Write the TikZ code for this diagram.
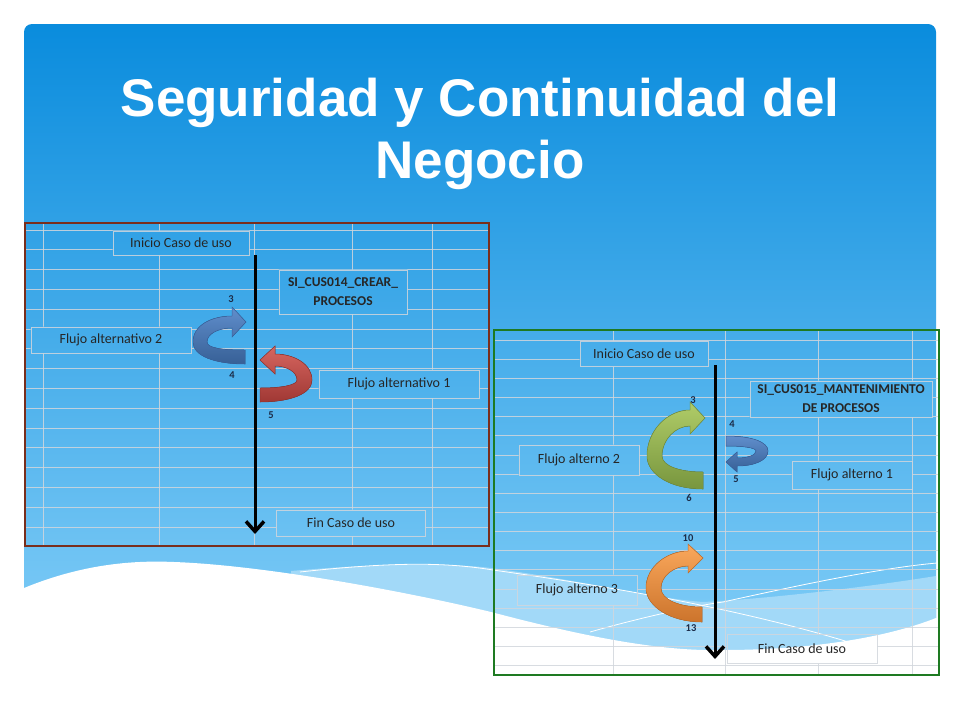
\documentclass[tikz,border=0pt]{standalone}
\usepackage{fontspec}
\setmainfont{Carlito}
\newfontfamily\titlefont{Liberation Sans}
\usetikzlibrary{arrows.meta}

\definecolor{slidetop}{HTML}{0A8CDD}
\definecolor{slidebot}{HTML}{8AD2F9}
\definecolor{bandblue}{HTML}{A2D9F8}
\definecolor{sheetline}{HTML}{D2D6DC}
\definecolor{brownframe}{HTML}{7A2E1C}
\definecolor{greenframe}{HTML}{1E7A22}
\definecolor{numcol}{HTML}{1C2C48}

\begin{document}
\begin{tikzpicture}[x=1pt,y=-1pt,
		gridline/.style={sheetline, line width=0.8pt, opacity=0.85},
		cellbox/.style={draw=sheetline, draw opacity=0.85, line width=0.8pt, inner sep=0pt, text=black!85, font=\fontsize{14}{16}\selectfont},
		headbox/.style={cellbox, align=center, font=\bfseries\fontsize{13.5}{19}\selectfont},
		num/.style={text=numcol, font=\bfseries\fontsize{10.5}{12}\selectfont},
		flowline/.style={line width=3pt, -{Straight Barb[length=10pt,width=18pt,line width=3.5pt]}},
		waveline/.style={white, line width=0.8pt},
		blueribbon/.style={top color={rgb,255:red,96;green,142;blue,204}, bottom color={rgb,255:red,55;green,96;blue,150}, draw={rgb,255:red,60;green,100;blue,160}, line width=0.5pt},
		redribbon/.style={top color={rgb,255:red,214;green,102;blue,96}, bottom color={rgb,255:red,160;green,56;blue,52}, draw={rgb,255:red,150;green,55;blue,50}, line width=0.5pt},
		greenribbon/.style={top color={rgb,255:red,176;green,204;blue,104}, bottom color={rgb,255:red,120;green,150;blue,62}, draw={rgb,255:red,118;green,146;blue,64}, line width=0.5pt},
		orangeribbon/.style={top color={rgb,255:red,250;green,168;blue,92}, bottom color={rgb,255:red,204;green,116;blue,44}, draw={rgb,255:red,196;green,112;blue,44}, line width=0.5pt}]
	\useasboundingbox (0,0) rectangle (960,720);

	%slide
	\shade[top color=slidetop, bottom color=slidebot, rounded corners=8pt] (24,24) rectangle (936,700);
	\fill[bandblue] (291,571) .. controls (380,563) and (450,563) .. (491,568) .. controls (580,580) and (650,598) .. (703,602) .. controls (780,598) and (880,585) .. (936,576) -- (936,700) -- (291,700) -- cycle;
	\fill[white] (24,588) .. controls (80,565) and (130,560) .. (174,562) .. controls (260,565) and (400,590) .. (491,612) .. controls (560,630) and (650,652) .. (723,650) .. controls (800,650) and (880,640) .. (936,618) -- (960,618) -- (960,720) -- (0,720) -- (0,588) -- cycle;
	\draw[waveline] (300,572) .. controls (400,561) and (450,563) .. (493,570) .. controls (620,588) and (760,612) .. (880,652);
	\draw[waveline] (590,632) .. controls (650,615) and (700,605) .. (723,602) .. controls (800,585) and (880,568) .. (937,563);

	\node[text=white, align=center, font=\titlefont\bfseries\fontsize{53}{62}\selectfont] (title) at (480,134) {Seguridad y Continuidad del\\Negocio};

	%left sheet
	\node[cellbox, minimum width=136pt, minimum height=24pt] (iniA) at (181,243) {Inicio Caso de uso};
	\node[headbox, minimum width=128pt, minimum height=44pt] (headA) at (343,292) {SI\_CUS014\_CREAR\_\\PROCESOS};
	\node[cellbox, minimum width=160pt, minimum height=26pt] (altA2) at (111,340) {Flujo alternativo 2};
	\node[cellbox, minimum width=160pt, minimum height=28pt] (altA1) at (399,384) {Flujo alternativo 1};
	\node[cellbox, minimum width=149pt, minimum height=26pt] (finA) at (351,523) {Fin Caso de uso};

	\begin{scope}[even odd rule]
		\clip (24,222) rectangle (489,546)
			(iniA.south west) rectangle (iniA.north east)
			(headA.south west) rectangle (headA.north east)
			(altA2.south west) rectangle (altA2.north east)
			(altA1.south west) rectangle (altA1.north east)
			(finA.south west) rectangle (finA.north east);
		\foreach \r in {0,...,15}{
			\draw[gridline] (24,{230+19.8*\r}) -- (489,{230+19.8*\r});
		}
		\foreach \c in {43,159,254,352,432}{
			\draw[gridline] (\c,222) -- (\c,546);
		}
	\end{scope}
	\draw[brownframe, line width=2pt] (25,223) rectangle (489,546);

	\node[num] (a3) at (231,299) {3};
	\node[num] (a4) at (232,375) {4};
	\node[num] (a5) at (271,415) {5};

	\fill[blueribbon] (245,364) .. controls (215,364) and (193,356) .. (193,342) .. controls (193,325) and (212,316) .. (232,316) -- (232,307) -- (246,322) -- (232,337) -- (232,328) .. controls (218,328) and (207,334) .. (207,342) .. controls (207,348) and (222,350) .. (245,350) -- cycle;
	\fill[redribbon] (260,402) .. controls (290,402) and (312,394) .. (312,380) .. controls (312,364) and (294,354) .. (275,354) -- (275,346) -- (260,360) -- (275,374) -- (275,366) .. controls (287,366) and (297,372) .. (297,380) .. controls (297,385) and (282,388) .. (260,388) -- cycle;

	\coordinate (topA) at (255,255);
	\coordinate (botA) at (255,534);
	\draw[flowline] (topA) -- (botA);

	%right sheet
	\node[cellbox, minimum width=128pt, minimum height=25pt] (iniB) at (644,354) {Inicio Caso de uso};
	\node[headbox, minimum width=182pt, minimum height=36pt] (headB) at (841,399) {SI\_CUS015\_MANTENIMIENTO\\DE PROCESOS};
	\node[cellbox, minimum width=120pt, minimum height=30pt] (altB2) at (579,460) {Flujo alterno 2};
	\node[cellbox, minimum width=120pt, minimum height=28pt] (altB1) at (852,475) {Flujo alterno 1};
	\node[cellbox, minimum width=120pt, minimum height=30pt] (altB3) at (577,590) {Flujo alterno 3};
	\node[cellbox, minimum width=150pt, minimum height=29pt] (finB) at (802,649) {Fin Caso de uso};

	\begin{scope}[even odd rule]
		\clip (493,329) rectangle (940,676)
			(iniB.south west) rectangle (iniB.north east)
			(headB.south west) rectangle (headB.north east)
			(altB2.south west) rectangle (altB2.north east)
			(altB1.south west) rectangle (altB1.north east)
			(altB3.south west) rectangle (altB3.north east)
			(finB.south west) rectangle (finB.north east);
		\foreach \r in {0,...,17}{
			\draw[gridline] (493,{340+19.15*\r}) -- (940,{340+19.15*\r});
		}
		\foreach \c in {613,725,818,912}{
			\draw[gridline] (\c,329) -- (\c,676);
		}
	\end{scope}
	\draw[greenframe, line width=2pt] (494,330) rectangle (939,675);

	\node[num] (b3) at (693,400) {3};
	\node[num] (b4) at (732,424) {4};
	\node[num] (b5) at (736,479) {5};
	\node[num] (b6) at (689,498) {6};
	\node[num] (b10) at (688,538) {10};
	\node[num] (b13) at (691,628) {13};

	\fill[greenribbon] (703,489) .. controls (670,489) and (647,474) .. (647,456) .. controls (647,430) and (668,410) .. (690,410) -- (690,402) -- (705,418) -- (690,434) -- (690,426) .. controls (675,426) and (662,440) .. (662,456) .. controls (662,466) and (680,472) .. (703,472) -- cycle;
	\fill[blueribbon] (726,436) .. controls (752,436) and (768,442) .. (768,451) .. controls (768,460) and (755,466) .. (737,466) -- (737,472) -- (726,462) -- (737,452) -- (737,458) .. controls (748,458) and (756,455) .. (756,451) .. controls (756,448) and (745,446) .. (726,446) -- cycle;
	\fill[orangeribbon] (702,622) .. controls (670,622) and (646,606) .. (646,588) .. controls (646,566) and (668,551) .. (688,551) -- (688,544) -- (703,558) -- (688,573) -- (688,566) .. controls (674,566) and (661,576) .. (661,588) .. controls (661,600) and (680,607) .. (702,607) -- cycle;

	\coordinate (topB) at (715,365);
	\coordinate (botB) at (715,659);
	\draw[flowline] (topB) -- (botB);
\end{tikzpicture}
\end{document}
